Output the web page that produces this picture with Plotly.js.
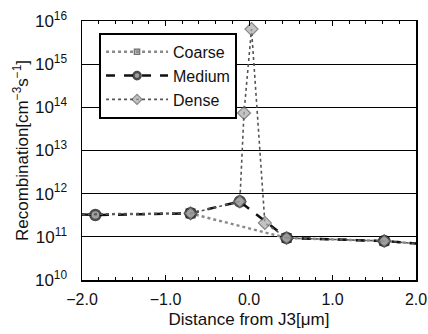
<!DOCTYPE html>
<html>
<head>
<meta charset="utf-8">
<script src="https://cdn.plot.ly/plotly-3.0.1.min.js"></script>
<style>html,body{margin:0;padding:0;background:#fff;}#chart{width:428px;height:334px;}</style>
</head>
<body>
<div id="chart"></div>
<script>
// Data (x in µm, y in cm^-3 s^-1)
const coarseX = [-2.0, -0.70, 0.45, 1.62, 2.0];
const coarseY = [3.3e11, 3.5e11, 9.4e10, 8.0e10, 7.0e10];

const mediumX = [-2.0, -1.84, -0.70, -0.11, 0.45, 1.62, 2.0];
const mediumY = [3.3e11, 3.2e11, 3.5e11, 6.6e11, 9.4e10, 8.0e10, 7.0e10];

const denseX = [-2.0, -0.70, -0.11, -0.06, 0.03, 0.19, 0.45, 1.62, 2.0];
const denseY = [3.3e11, 3.5e11, 6.6e11, 7.4e13, 6.5e15, 2.1e11, 9.4e10, 8.0e10, 7.0e10];

const xTickVals = [-2, -1, 0, 1, 2];
const xTickText = ['\u22122.0', '\u22121.0', '0.0', '1.0', '2.0'];
const yTickVals = [1e10, 1e11, 1e12, 1e13, 1e14, 1e15, 1e16];
const yTickText = ['10<sup>10</sup>', '10<sup>11</sup>', '10<sup>12</sup>', '10<sup>13</sup>', '10<sup>14</sup>', '10<sup>15</sup>', '10<sup>16</sup>'];

function sizes(xs, s) { return xs.map(v => (Math.abs(v) >= 2 ? 0 : s)); }

const traces = [
  {
    x: coarseX, y: coarseY, name: 'Coarse', mode: 'lines+markers',
    line: {color: '#8a8a8a', width: 2.5, dash: 'dot'},
    marker: {symbol: 'square', size: sizes(coarseX, 9), color: '#8f8f8f', line: {color: '#333', width: 1.2}}
  },
  {
    x: mediumX, y: mediumY, name: 'Medium', mode: 'lines+markers',
    line: {color: '#111', width: 2.5, dash: 'dash'},
    marker: {symbol: 'circle', size: sizes(mediumX, 10), color: '#777', line: {color: '#000', width: 2.5}}
  },
  {
    x: denseX, y: denseY, name: 'Dense', mode: 'lines+markers',
    line: {color: '#555', width: 1.6, dash: 'dot'},
    marker: {symbol: 'diamond', size: sizes(denseX, 10), color: '#aaa', line: {color: '#555', width: 1.2}}
  }
];

const fam = 'Liberation Sans, Arial, sans-serif';
const font = {family: fam, size: 16, color: '#111'};

const layout = {
  width: 428, height: 334,
  margin: {l: 82, r: 12, t: 21, b: 54},
  paper_bgcolor: '#fff', plot_bgcolor: '#fff',
  font: font,
  showlegend: true,
  legend: {
    x: 0.051, y: 0.954, xanchor: 'left', yanchor: 'top',
    bgcolor: '#fff', bordercolor: '#000', borderwidth: 2,
    font: {family: fam, size: 16, color: '#111'},
    tracegroupgap: 0, itemwidth: 62
  },
  xaxis: {
    range: [-2, 2], tickvals: xTickVals, ticktext: xTickText,
    ticks: 'inside', ticklen: 5, tickcolor: '#000', tickwidth: 1,
    minor: {dtick: 0.2, ticks: 'inside', ticklen: 3, tickcolor: '#000', showgrid: false},
    showline: true, linecolor: '#000', linewidth: 1.5, mirror: 'ticks',
    showgrid: false, zeroline: false,
    ticklabelstandoff: 4,
    tickfont: {family: fam, size: 16, color: '#111'},
    title: {text: 'Distance from J3[\u03bcm]', font: {family: fam, size: 17, color: '#111'}, standoff: 6}
  },
  yaxis: {
    type: 'log', range: [10, 16], tickvals: yTickVals, ticktext: yTickText,
    ticks: '', showline: true, linecolor: '#000', linewidth: 1.5, mirror: true,
    showgrid: true, gridcolor: '#000', gridwidth: 1, zeroline: false,
    ticklabelstandoff: 10,
    tickfont: {family: fam, size: 17, color: '#111'},
    title: {text: 'Recombination[cm<sup>\u22123</sup>s<sup>\u22121</sup>]', font: {family: fam, size: 17, color: '#111'}, standoff: 2}
  }
};

Plotly.newPlot('chart', traces, layout, {staticPlot: true, displayModeBar: false});
</script>
</body>
</html>
